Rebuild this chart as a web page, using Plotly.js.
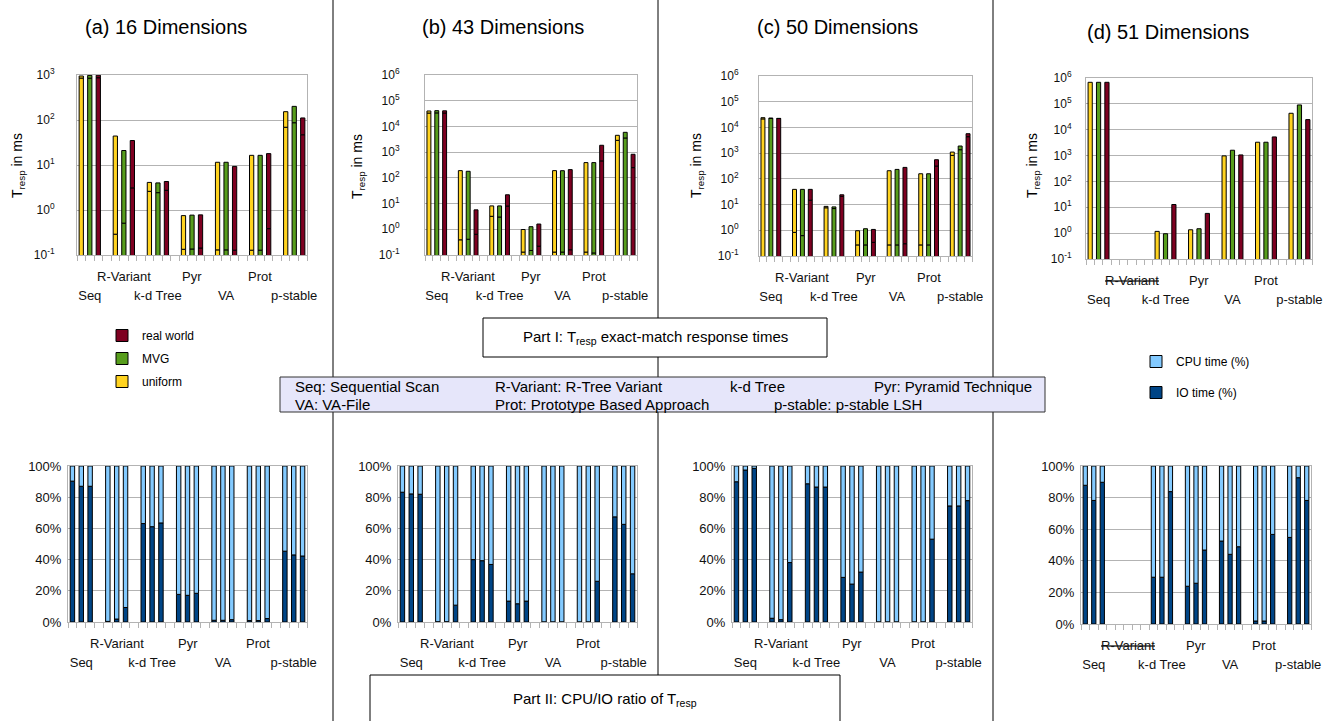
<!DOCTYPE html>
<html>
<head>
<meta charset="utf-8">
<script src="https://cdn.plot.ly/plotly-3.0.1.min.js"></script>
<style>
html,body{margin:0;padding:0;background:#fff;}
#chart{width:1336px;height:721px;}
</style>
</head>
<body>
<div id="chart"></div>
<script>
// ---------- categories & labels ----------
const categories = ['Seq', 'R-Variant', 'k-d Tree', 'Pyr', 'VA', 'Prot', 'p-stable'];
const seriesNames = ['uniform', 'MVG', 'real world'];
const seriesColors = ['#FFD320', '#579D1C', '#7E0021'];
const seriesLegendRank = [3, 2, 1];
const ioName = 'IO time (%)';
const cpuName = 'CPU time (%)';
const ioColor = '#004586';
const cpuColor = '#83CAFF';

const logTickVals3 = [0.1, 1, 10, 100, 1000];
const logTickText3 = ['10<sup>-1</sup>', '10<sup>0</sup>', '10<sup>1</sup>', '10<sup>2</sup>', '10<sup>3</sup>'];
const logTickVals6 = [0.1, 1, 10, 100, 1000, 1e4, 1e5, 1e6];
const logTickText6 = ['10<sup>-1</sup>', '10<sup>0</sup>', '10<sup>1</sup>', '10<sup>2</sup>', '10<sup>3</sup>', '10<sup>4</sup>', '10<sup>5</sup>', '10<sup>6</sup>'];
const pctTickVals = [0, 20, 40, 60, 80, 100];
const pctTickText = ['0%', '20%', '40%', '60%', '80%', '100%'];

// ---------- Part I: T_resp totals (ms) and IO portion (ms) ----------
// (a) 16 dimensions
const t16Uniform = [950, 44, 4.1, 0.75, 11.5, 16.4, 153];
const t16Mvg     = [980, 21, 4.0, 0.77, 11.5, 16.4, 201];
const t16Real    = [990, 35, 4.3, 0.78, 9.3, 17.9, 111];
const io16Uniform = [855, 0.29, 2.6, 0.134, 0.13, 0.128, 69];
const io16Mvg     = [850, 0.51, 2.43, 0.136, 0.13, 0.128, 87];
const io16Real    = [870, 3.1, 2.74, 0.143, 0.128, 0.385, 47];
// (b) 43 dimensions
const t43Uniform = [39900, 191, 8.1, 0.98, 191, 392, 4520];
const t43Mvg     = [41000, 180, 8.1, 1.26, 190, 392, 5900];
const t43Real    = [40500, 5.7, 22, 1.6, 209, 1850, 826];
const io43Uniform = [33100, 0.39, 3.2, 0.13, 0.13, 0.13, 2880];
const io43Mvg     = [33600, 0.41, 3.0, 0.15, 0.13, 0.12, 3560];
const io43Real    = [33200, 0.64, 8.0, 0.22, 0.16, 457, 250];
// (c) 50 dimensions
const t50Uniform = [23900, 39, 8.5, 0.96, 207, 158, 1100];
const t50Mvg     = [23000, 39, 8.1, 1.15, 233, 158, 1890];
const t50Real    = [22500, 39, 24, 1.08, 279, 555, 5700];
const io50Uniform = [21500, 0.83, 7.5, 0.27, 0.27, 0.27, 820];
const io50Mvg     = [22400, 0.62, 7.0, 0.27, 0.27, 0.27, 1360];
const io50Real    = [22200, 14.8, 20.8, 0.34, 0.30, 315, 4360];
// (d) 51 dimensions (no R-Variant)
const t51Uniform = [681000, null, 1.17, 1.35, 973, 3280, 43200];
const t51Mvg     = [681000, null, 0.95, 1.48, 1610, 3280, 90700];
const t51Real    = [681000, null, 12.8, 5.8, 1060, 5270, 24600];

// ---------- Part II: IO share of T_resp (%) ----------
const p16Uniform = [90.3, 0.4, 63.1, 17.7, 1.1, 0.9, 45.4];
const p16Mvg     = [87.0, 1.9, 61.1, 17.1, 1.1, 0.9, 43.0];
const p16Real    = [87.0, 9.3, 63.5, 18.4, 1.5, 2.2, 42.3];
const p43Uniform = [83.2, 0.2, 40.0, 13.4, 0.1, 0.1, 67.4];
const p43Mvg     = [82.1, 0.2, 39.3, 11.7, 0.1, 0.1, 62.6];
const p43Real    = [81.9, 10.8, 36.9, 13.4, 0.1, 26.1, 30.9];
const p50Uniform = [89.9, 2.4, 88.6, 28.6, 0.1, 0.1, 74.4];
const p50Mvg     = [97.4, 1.5, 86.5, 24.3, 0.1, 0.1, 74.4];
const p50Real    = [98.5, 38.1, 86.5, 32.0, 0.1, 53.1, 77.8];
const p51Uniform = [87.8, null, 29.6, 23.9, 52.5, 1.9, 54.8];
const p51Mvg     = [78.2, null, 29.6, 25.8, 44.1, 1.9, 92.6];
const p51Real    = [89.7, null, 83.8, 46.8, 48.9, 56.7, 78.2];

// ---------- geometry helpers ----------
const W = 1336, H = 721;
const FONT = 'Liberation Sans, Arial, sans-serif';
const px = v => v / W;
const py = v => 1 - v / H;
const dom = (a, b) => [a / W, b / W];
const domY = (t, b) => [1 - b / H, 1 - t / H];

const xIdx = categories.map((c, i) => i);
const lowerIdx = xIdx.filter(i => i % 2 === 0);
const upperIdx = xIdx.filter(i => i % 2 === 1);
const lowerText = lowerIdx.map(i => categories[i]);
const upperText = upperIdx.map(i => categories[i]);
const upperTextStruck = upperIdx.map(i => categories[i] === 'R-Variant' ? '<s>R-Variant</s>' : categories[i]);

const panels = [
  {k: 1, title: '(a) 16 Dimensions', kind: 'top', totals: [t16Uniform, t16Mvg, t16Real], io: [io16Uniform, io16Mvg, io16Real],
   tv: logTickVals3, tt: logTickText3, yr: [-1, 3], xd: [77, 307], yd: [75, 255], ystand: 19, titleX: 166, titleY: 27, axTitleX: 18, upper: upperText},
  {k: 2, title: '(b) 43 Dimensions', kind: 'top', totals: [t43Uniform, t43Mvg, t43Real], io: [io43Uniform, io43Mvg, io43Real],
   tv: logTickVals6, tt: logTickText6, yr: [-1, 6], xd: [425, 637], yd: [75, 255], ystand: 22, titleX: 503, titleY: 27, axTitleX: 358, upper: upperText},
  {k: 3, title: '(c) 50 Dimensions', kind: 'top', totals: [t50Uniform, t50Mvg, t50Real], io: [io50Uniform, io50Mvg, io50Real],
   tv: logTickVals6, tt: logTickText6, yr: [-1, 6], xd: [759, 972], yd: [76, 256], ystand: 17, titleX: 837, titleY: 27, axTitleX: 697, upper: upperText},
  {k: 4, title: '(d) 51 Dimensions', kind: 'top', totals: [t51Uniform, t51Mvg, t51Real], io: null,
   tv: logTickVals6, tt: logTickText6, yr: [-1, 6], xd: [1086, 1312], yd: [78, 259], ystand: 11, titleX: 1168, titleY: 32, axTitleX: 1033, upper: upperTextStruck},
  {k: 5, kind: 'bottom', io: [p16Uniform, p16Mvg, p16Real], xd: [68, 307], yd: [466, 622], ystand: 3, upper: upperText},
  {k: 6, kind: 'bottom', io: [p43Uniform, p43Mvg, p43Real], xd: [398, 637], yd: [466, 622], ystand: 3, upper: upperText},
  {k: 7, kind: 'bottom', io: [p50Uniform, p50Mvg, p50Real], xd: [732, 972], yd: [466, 622], ystand: 3, upper: upperText},
  {k: 8, kind: 'bottom', io: [p51Uniform, p51Mvg, p51Real], xd: [1081, 1311], yd: [466, 624], ystand: 3, upper: upperTextStruck}
];

const traces = [];
const layout = {
  width: W, height: H,
  margin: {l: 0, r: 0, t: 0, b: 0},
  paper_bgcolor: '#fff', plot_bgcolor: '#fff',
  font: {family: FONT, size: 12, color: '#000'},
  barmode: 'group', bargap: 0.25, bargroupgap: 0.5,
  showlegend: true,
  legend: {x: px(102), y: py(321), xanchor: 'left', yanchor: 'top', bgcolor: 'rgba(0,0,0,0)',
           font: {family: FONT, size: 12, color: '#000'}, traceorder: 'grouped', tracegroupgap: 4},
  legend2: {x: px(1136), y: py(347), xanchor: 'left', yanchor: 'top', bgcolor: 'rgba(0,0,0,0)',
            font: {family: FONT, size: 12, color: '#000'}, traceorder: 'grouped', tracegroupgap: 12},
  annotations: [], shapes: []
};

const barLine = {color: '#000', width: 1};
const labelFont = {family: FONT, size: 13, color: '#111'};

panels.forEach(p => {
  const xa = p.k === 1 ? 'x' : 'x' + p.k;
  const ya = p.k === 1 ? 'y' : 'y' + p.k;
  const xKey = p.k === 1 ? 'xaxis' : 'xaxis' + p.k;
  const yKey = p.k === 1 ? 'yaxis' : 'yaxis' + p.k;

  if (p.kind === 'top') {
    for (let s = 0; s < 3; s++) {
      const tot = p.totals[s];
      if (p.io) {
        const io = p.io[s];
        traces.push({type: 'bar', x: xIdx, y: io, xaxis: xa, yaxis: ya, offsetgroup: String(s),
          name: seriesNames[s], legendgroup: seriesNames[s], legendrank: seriesLegendRank[s], showlegend: false,
          marker: {color: seriesColors[s], line: barLine}, hoverinfo: 'skip'});
        traces.push({type: 'bar', x: xIdx, y: tot.map((t, i) => t == null ? null : t - io[i]), base: io,
          xaxis: xa, yaxis: ya, offsetgroup: String(s),
          name: seriesNames[s], legendgroup: seriesNames[s], legendrank: seriesLegendRank[s], legend: 'legend', showlegend: p.k === 1,
          marker: {color: seriesColors[s], line: barLine}, hoverinfo: 'skip'});
      } else {
        traces.push({type: 'bar', x: xIdx, y: tot, xaxis: xa, yaxis: ya, offsetgroup: String(s),
          name: seriesNames[s], legendgroup: seriesNames[s], legendrank: seriesLegendRank[s], showlegend: false,
          marker: {color: seriesColors[s], line: barLine}, hoverinfo: 'skip'});
      }
    }
  } else {
    for (let s = 0; s < 3; s++) {
      const io = p.io[s];
      traces.push({type: 'bar', x: xIdx, y: io, xaxis: xa, yaxis: ya, offsetgroup: String(s),
        name: ioName, legendgroup: 'io', legendrank: 2, legend: 'legend2', showlegend: p.k === 5 && s === 0,
        marker: {color: ioColor, line: barLine}, hoverinfo: 'skip'});
      traces.push({type: 'bar', x: xIdx, y: io.map(v => v == null ? null : 100 - v), base: io,
        xaxis: xa, yaxis: ya, offsetgroup: String(s),
        name: cpuName, legendgroup: 'cpu', legendrank: 1, legend: 'legend2', showlegend: p.k === 5 && s === 0,
        marker: {color: cpuColor, line: barLine}, hoverinfo: 'skip'});
    }
  }

  // x axis: lower row labels on the axis + slot tick marks
  layout[xKey] = {
    domain: dom(p.xd[0], p.xd[1]), anchor: ya, type: 'linear', range: [-0.375, 6.375], fixedrange: true,
    showgrid: false, zeroline: false, showline: true, linecolor: '#b3b3b3', linewidth: 1, mirror: true,
    ticks: '', tickmode: 'array', tickvals: lowerIdx, ticktext: lowerText, ticklabelstandoff: 28,
    tickfont: labelFont,
    minor: {ticks: 'outside', ticklen: 5, tickcolor: '#b3b3b3', tickwidth: 1, tick0: -0.375, dtick: 0.25, showgrid: false}
  };
  // upper row of staggered category labels, placed at the category positions on the same x axis
  upperIdx.forEach((ci, j) => {
    layout.annotations.push({xref: xa, yref: 'paper', x: ci, y: py(p.yd[1] + 21), xanchor: 'center', yanchor: 'middle',
      text: p.upper[j], showarrow: false, font: labelFont});
  });

  if (p.kind === 'top') {
    layout[yKey] = {
      domain: domY(p.yd[0], p.yd[1]), anchor: xa, type: 'log', range: p.yr, fixedrange: true,
      showgrid: true, gridcolor: '#b3b3b3', gridwidth: 1, zeroline: false,
      showline: true, linecolor: '#b3b3b3', linewidth: 1, mirror: true, ticks: '',
      tickmode: 'array', tickvals: p.tv, ticktext: p.tt, ticklabelstandoff: p.ystand,
      tickfont: {family: FONT, size: 12, color: '#111'}
    };
    layout.annotations.push({xref: 'paper', yref: 'paper', x: px(p.titleX), y: py(p.titleY), xanchor: 'center', yanchor: 'middle',
      text: p.title, showarrow: false, font: {family: FONT, size: 20, color: '#000'}});
    layout.annotations.push({xref: 'paper', yref: 'paper', x: px(p.axTitleX), y: py(166), xanchor: 'center', yanchor: 'middle',
      text: 'T<sub>resp</sub> in ms', textangle: -90, showarrow: false, font: {family: FONT, size: 14, color: '#000'}});
  } else {
    layout[yKey] = {
      domain: domY(p.yd[0], p.yd[1]), anchor: xa, type: 'linear', range: [0, 100], fixedrange: true,
      showgrid: true, gridcolor: '#b3b3b3', gridwidth: 1, zeroline: false,
      showline: true, linecolor: '#b3b3b3', linewidth: 1, mirror: true, ticks: '',
      tickmode: 'array', tickvals: pctTickVals, ticktext: pctTickText, ticklabelstandoff: p.ystand,
      tickfont: {family: FONT, size: 13, color: '#111'}
    };
  }
});

// ---------- separators & text boxes ----------
[333, 658, 993].forEach(x => {
  layout.shapes.push({type: 'line', xref: 'paper', yref: 'paper', x0: px(x), x1: px(x), y0: 0, y1: 1,
    line: {color: '#000', width: 1}, layer: 'above'});
});
layout.shapes.push({type: 'rect', xref: 'paper', yref: 'paper', x0: px(483), x1: px(827), y0: py(357), y1: py(318),
  fillcolor: '#fff', line: {color: '#000', width: 1}, layer: 'above'});
layout.shapes.push({type: 'rect', xref: 'paper', yref: 'paper', x0: px(280), x1: px(1045), y0: py(412), y1: py(377),
  fillcolor: '#E6E6FA', line: {color: '#333', width: 1}, layer: 'above'});
layout.shapes.push({type: 'rect', xref: 'paper', yref: 'paper', x0: px(370), x1: px(840), y0: py(730), y1: py(675),
  fillcolor: '#fff', line: {color: '#000', width: 1}, layer: 'above'});

const boxFont = {family: FONT, size: 15, color: '#000'};
layout.annotations.push({xref: 'paper', yref: 'paper', x: px(655), y: py(337), xanchor: 'center', yanchor: 'middle',
  text: 'Part I: T<sub>resp</sub> exact-match response times', showarrow: false, font: boxFont});
layout.annotations.push({xref: 'paper', yref: 'paper', x: px(605), y: py(699), xanchor: 'center', yanchor: 'middle',
  text: 'Part II: CPU/IO ratio of T<sub>resp</sub>', showarrow: false, font: boxFont});

const abbrevRow1 = ['Seq: Sequential Scan', 'R-Variant: R-Tree Variant', 'k-d Tree', 'Pyr: Pyramid Technique'];
const abbrevRow1X = [293, 493, 728, 872];
const abbrevRow2 = ['VA: VA-File', 'Prot: Prototype Based Approach', 'p-stable: p-stable LSH'];
const abbrevRow2X = [293, 493, 772];
abbrevRow1.forEach((t, i) => layout.annotations.push({xref: 'paper', yref: 'paper', x: px(abbrevRow1X[i]), y: py(386),
  xanchor: 'left', yanchor: 'middle', text: t, showarrow: false, font: boxFont}));
abbrevRow2.forEach((t, i) => layout.annotations.push({xref: 'paper', yref: 'paper', x: px(abbrevRow2X[i]), y: py(404),
  xanchor: 'left', yanchor: 'middle', text: t, showarrow: false, font: boxFont}));

Plotly.newPlot('chart', traces, layout, {displayModeBar: false, staticPlot: true});
</script>
</body>
</html>
